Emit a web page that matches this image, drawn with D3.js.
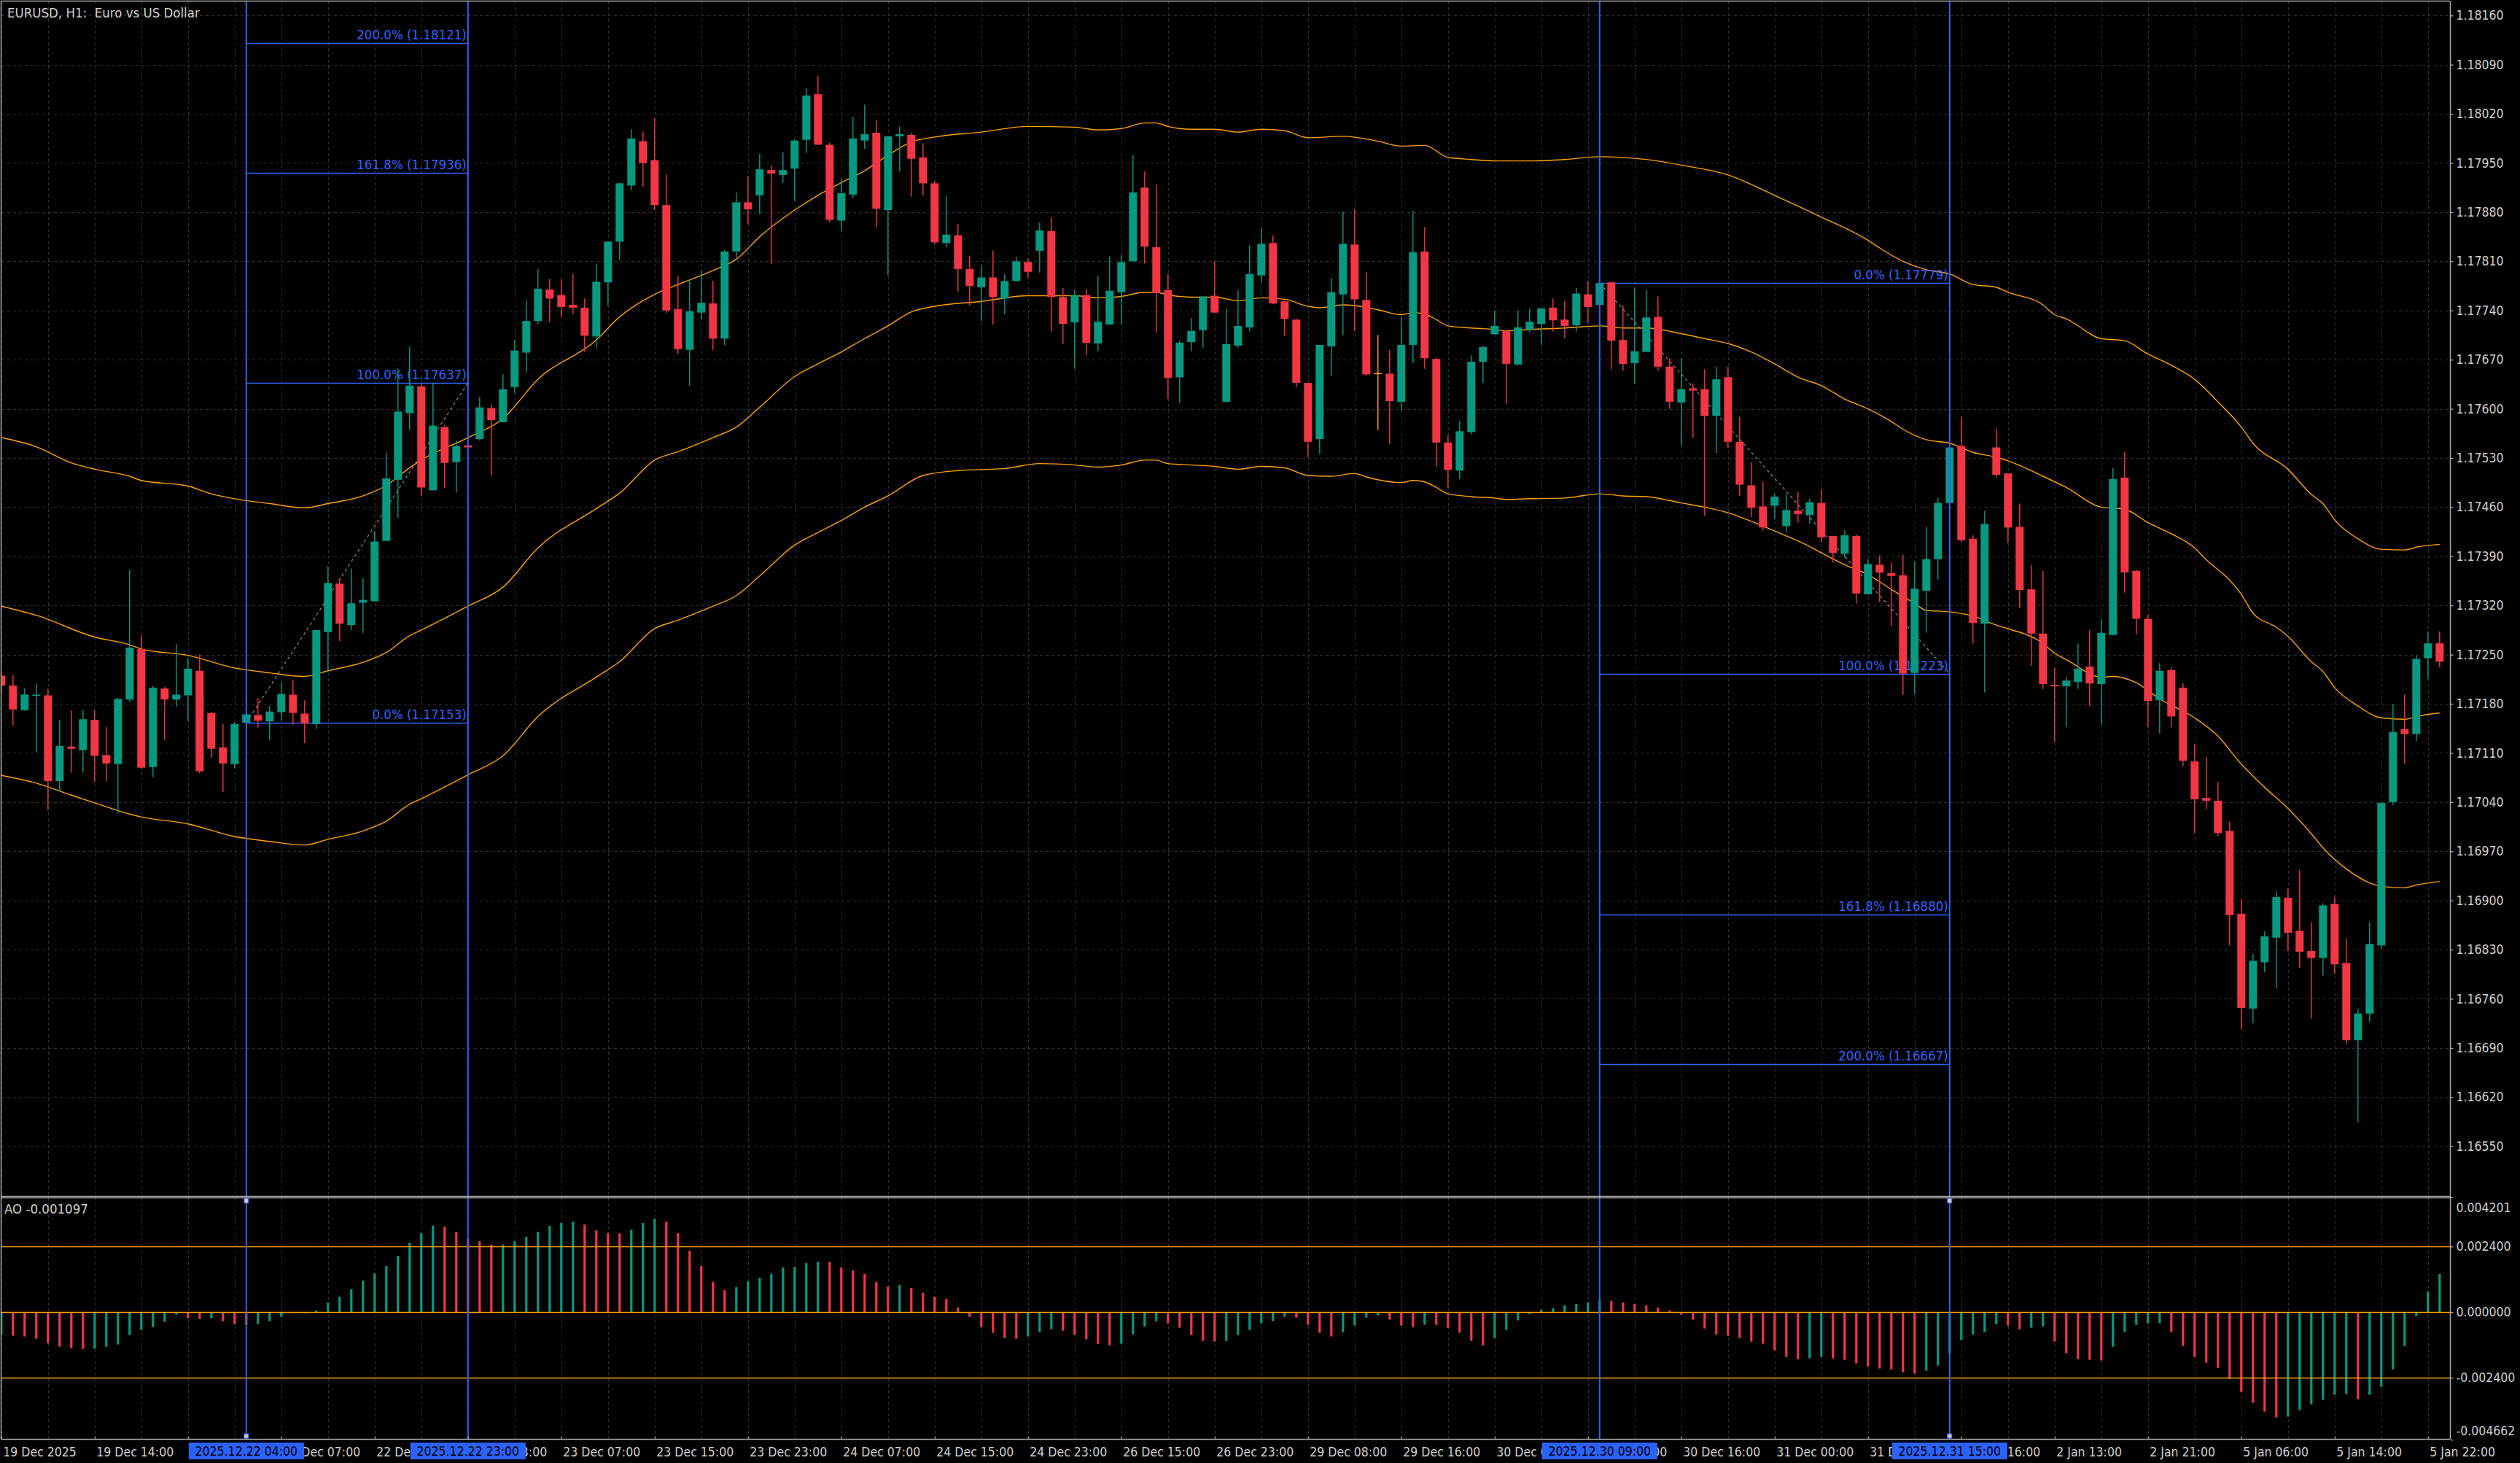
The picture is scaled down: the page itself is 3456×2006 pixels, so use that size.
<!DOCTYPE html>
<html>
<head>
<meta charset="utf-8">
<script src="https://cdn.jsdelivr.net/npm/d3@7"></script>
<style>
  html, body { margin: 0; padding: 0; background: #000; overflow: hidden; }
  svg text { font-family: "DejaVu Sans Condensed", "DejaVu Sans", sans-serif; font-stretch: condensed; }
</style>
</head>
<body>
<svg id="chart"></svg>
<script>
// EURUSD H1 candles, 19 Dec 2025 06:00 .. 5 Jan 2026 23:00 (one value per bar)
var opens = [
  1.17220, 1.17206, 1.17171, 1.17192, 1.17192, 1.17070, 1.17119, 1.17114, 1.17157, 1.17107,
  1.17094, 1.17186, 1.17258, 1.17090, 1.17202, 1.17186, 1.17192, 1.17227, 1.17167, 1.17118,
  1.17094, 1.17153, 1.17164, 1.17155, 1.17168, 1.17193, 1.17166, 1.17151, 1.17282, 1.17351,
  1.17292, 1.17324, 1.17326, 1.17412, 1.17499, 1.17594, 1.17632, 1.17484, 1.17574, 1.17524,
  1.17548, 1.17557, 1.17601, 1.17581, 1.17631, 1.17680, 1.17725, 1.17770, 1.17762, 1.17748,
  1.17744, 1.17703, 1.17780, 1.17838, 1.17918, 1.17981, 1.17954, 1.17890, 1.17742, 1.17684,
  1.17737, 1.17750, 1.17700, 1.17824, 1.17894, 1.17904, 1.17940, 1.17933, 1.17942, 1.17983,
  1.18048, 1.17976, 1.17868, 1.17905, 1.17982, 1.17993, 1.17883, 1.17988, 1.17990, 1.17958,
  1.17921, 1.17836, 1.17847, 1.17799, 1.17773, 1.17787, 1.17757, 1.17782, 1.17809, 1.17825,
  1.17853, 1.17759, 1.17723, 1.17762, 1.17693, 1.17720, 1.17766, 1.17810, 1.17915, 1.17830,
  1.17769, 1.17645, 1.17695, 1.17712, 1.17761, 1.17610, 1.17690, 1.17716, 1.17790, 1.17836,
  1.17753, 1.17727, 1.17637, 1.17557, 1.17689, 1.17763, 1.17834, 1.17755, 1.17651, 1.17650,
  1.17610, 1.17691, 1.17824, 1.17671, 1.17552, 1.17512, 1.17567, 1.17667, 1.17706, 1.17711,
  1.17663, 1.17713, 1.17721, 1.17744, 1.17727, 1.17719, 1.17763, 1.17748, 1.17780, 1.17698,
  1.17665, 1.17681, 1.17731, 1.17660, 1.17609, 1.17629, 1.17628, 1.17590, 1.17645, 1.17553,
  1.17491, 1.17461, 1.17462, 1.17433, 1.17455, 1.17449, 1.17466, 1.17419, 1.17394, 1.17419,
  1.17336, 1.17378, 1.17366, 1.17363, 1.17224, 1.17341, 1.17386, 1.17466, 1.17547, 1.17415,
  1.17294, 1.17545, 1.17508, 1.17432, 1.17343, 1.17280, 1.17207, 1.17205, 1.17211, 1.17233,
  1.17208, 1.17278, 1.17502, 1.17369, 1.17301, 1.17185, 1.17228, 1.17203, 1.17098, 1.17046,
  1.17042, 1.16999, 1.16881, 1.16746, 1.16812, 1.16847, 1.16904, 1.16857, 1.16828, 1.16818,
  1.16895, 1.16811, 1.16701, 1.16739, 1.16836, 1.17040, 1.17144, 1.17137, 1.17245, 1.17266
];
var highs = [
  1.17225, 1.17221, 1.17202, 1.17209, 1.17201, 1.17157, 1.17171, 1.17171, 1.17171, 1.17147,
  1.17188, 1.17371, 1.17278, 1.17205, 1.17204, 1.17265, 1.17245, 1.17250, 1.17168, 1.17151,
  1.17154, 1.17168, 1.17188, 1.17177, 1.17211, 1.17214, 1.17185, 1.17285, 1.17376, 1.17359,
  1.17373, 1.17359, 1.17426, 1.17538, 1.17658, 1.17688, 1.17636, 1.17637, 1.17577, 1.17555,
  1.17550, 1.17617, 1.17606, 1.17649, 1.17698, 1.17755, 1.17799, 1.17785, 1.17785, 1.17792,
  1.17757, 1.17807, 1.17838, 1.17922, 1.17998, 1.17995, 1.18014, 1.17934, 1.17789, 1.17784,
  1.17797, 1.17782, 1.17826, 1.17908, 1.17931, 1.17963, 1.17946, 1.17965, 1.17984, 1.18056,
  1.18074, 1.17979, 1.17928, 1.18016, 1.18033, 1.18011, 1.17989, 1.18002, 1.17993, 1.17978,
  1.17925, 1.17904, 1.17863, 1.17818, 1.17803, 1.17825, 1.17792, 1.17816, 1.17814, 1.17865,
  1.17872, 1.17772, 1.17769, 1.17771, 1.17789, 1.17817, 1.17819, 1.17961, 1.17938, 1.17919,
  1.17792, 1.17697, 1.17729, 1.17760, 1.17810, 1.17743, 1.17769, 1.17833, 1.17857, 1.17847,
  1.17754, 1.17728, 1.17637, 1.17691, 1.17786, 1.17881, 1.17884, 1.17795, 1.17705, 1.17684,
  1.17731, 1.17882, 1.17859, 1.17673, 1.17563, 1.17583, 1.17676, 1.17690, 1.17740, 1.17711,
  1.17740, 1.17743, 1.17744, 1.17757, 1.17754, 1.17772, 1.17782, 1.17779, 1.17781, 1.17747,
  1.17773, 1.17769, 1.17760, 1.17672, 1.17672, 1.17636, 1.17656, 1.17660, 1.17660, 1.17588,
  1.17524, 1.17496, 1.17479, 1.17479, 1.17482, 1.17472, 1.17485, 1.17419, 1.17427, 1.17421,
  1.17386, 1.17391, 1.17381, 1.17392, 1.17383, 1.17432, 1.17473, 1.17545, 1.17588, 1.17420,
  1.17455, 1.17572, 1.17508, 1.17465, 1.17378, 1.17369, 1.17231, 1.17219, 1.17266, 1.17285,
  1.17301, 1.17516, 1.17539, 1.17371, 1.17307, 1.17238, 1.17232, 1.17209, 1.17123, 1.17104,
  1.17069, 1.17012, 1.16903, 1.16824, 1.16856, 1.16913, 1.16917, 1.16943, 1.16869, 1.16896,
  1.16905, 1.16846, 1.16746, 1.16869, 1.17039, 1.17180, 1.17193, 1.17249, 1.17283, 1.17283
];
var lows = [
  1.17195, 1.17149, 1.17170, 1.17111, 1.17029, 1.17056, 1.17082, 1.17082, 1.17069, 1.17070,
  1.17024, 1.17183, 1.17087, 1.17076, 1.17128, 1.17176, 1.17156, 1.17081, 1.17103, 1.17054,
  1.17088, 1.17153, 1.17146, 1.17128, 1.17156, 1.17150, 1.17124, 1.17144, 1.17226, 1.17269,
  1.17285, 1.17281, 1.17326, 1.17412, 1.17445, 1.17570, 1.17476, 1.17484, 1.17487, 1.17481,
  1.17542, 1.17555, 1.17505, 1.17581, 1.17622, 1.17652, 1.17720, 1.17724, 1.17730, 1.17735,
  1.17681, 1.17686, 1.17747, 1.17812, 1.17911, 1.17916, 1.17883, 1.17736, 1.17678, 1.17633,
  1.17727, 1.17684, 1.17691, 1.17815, 1.17863, 1.17877, 1.17806, 1.17922, 1.17896, 1.17964,
  1.17976, 1.17865, 1.17854, 1.17900, 1.17970, 1.17858, 1.17790, 1.17938, 1.17902, 1.17904,
  1.17834, 1.17830, 1.17767, 1.17747, 1.17725, 1.17720, 1.17735, 1.17781, 1.17787, 1.17794,
  1.17710, 1.17692, 1.17657, 1.17676, 1.17682, 1.17720, 1.17720, 1.17810, 1.17807, 1.17708,
  1.17614, 1.17608, 1.17682, 1.17687, 1.17737, 1.17610, 1.17687, 1.17710, 1.17780, 1.17749,
  1.17704, 1.17631, 1.17531, 1.17536, 1.17647, 1.17705, 1.17711, 1.17647, 1.17570, 1.17550,
  1.17597, 1.17665, 1.17657, 1.17518, 1.17487, 1.17500, 1.17564, 1.17637, 1.17706, 1.17607,
  1.17663, 1.17709, 1.17691, 1.17710, 1.17701, 1.17710, 1.17722, 1.17748, 1.17656, 1.17654,
  1.17635, 1.17681, 1.17654, 1.17600, 1.17547, 1.17559, 1.17448, 1.17537, 1.17544, 1.17476,
  1.17446, 1.17427, 1.17443, 1.17425, 1.17438, 1.17437, 1.17410, 1.17381, 1.17388, 1.17323,
  1.17336, 1.17325, 1.17291, 1.17193, 1.17193, 1.17281, 1.17357, 1.17466, 1.17410, 1.17266,
  1.17196, 1.17502, 1.17409, 1.17316, 1.17234, 1.17201, 1.17126, 1.17147, 1.17201, 1.17177,
  1.17150, 1.17278, 1.17338, 1.17279, 1.17147, 1.17138, 1.17147, 1.17091, 1.16996, 1.17030,
  1.16991, 1.16836, 1.16717, 1.16725, 1.16798, 1.16775, 1.16828, 1.16804, 1.16732, 1.16793,
  1.16795, 1.16695, 1.16584, 1.16727, 1.16832, 1.17036, 1.17094, 1.17127, 1.17215, 1.17232
];
var closes = [
  1.17206, 1.17172, 1.17193, 1.17193, 1.17070, 1.17120, 1.17116, 1.17158, 1.17106, 1.17095,
  1.17187, 1.17260, 1.17089, 1.17203, 1.17186, 1.17193, 1.17230, 1.17084, 1.17116, 1.17095,
  1.17151, 1.17165, 1.17156, 1.17169, 1.17194, 1.17167, 1.17152, 1.17285, 1.17352, 1.17294,
  1.17323, 1.17328, 1.17411, 1.17501, 1.17596, 1.17633, 1.17488, 1.17576, 1.17523, 1.17547,
  1.17545, 1.17602, 1.17584, 1.17628, 1.17683, 1.17725, 1.17771, 1.17757, 1.17745, 1.17744,
  1.17704, 1.17781, 1.17838, 1.17921, 1.17985, 1.17950, 1.17890, 1.17740, 1.17685, 1.17739,
  1.17751, 1.17700, 1.17824, 1.17894, 1.17884, 1.17941, 1.17935, 1.17940, 1.17982, 1.18046,
  1.17976, 1.17869, 1.17907, 1.17985, 1.17991, 1.17885, 1.17988, 1.17991, 1.17956, 1.17921,
  1.17837, 1.17848, 1.17799, 1.17775, 1.17787, 1.17759, 1.17782, 1.17810, 1.17795, 1.17854,
  1.17759, 1.17721, 1.17762, 1.17694, 1.17724, 1.17768, 1.17809, 1.17908, 1.17831, 1.17765,
  1.17644, 1.17694, 1.17711, 1.17760, 1.17737, 1.17692, 1.17718, 1.17792, 1.17835, 1.17750,
  1.17728, 1.17637, 1.17553, 1.17691, 1.17766, 1.17835, 1.17756, 1.17649, 1.17651, 1.17611,
  1.17691, 1.17823, 1.17672, 1.17552, 1.17513, 1.17568, 1.17667, 1.17688, 1.17718, 1.17664,
  1.17716, 1.17724, 1.17743, 1.17726, 1.17718, 1.17764, 1.17745, 1.17779, 1.17697, 1.17664,
  1.17682, 1.17730, 1.17660, 1.17610, 1.17628, 1.17626, 1.17590, 1.17642, 1.17553, 1.17492,
  1.17459, 1.17431, 1.17475, 1.17456, 1.17450, 1.17467, 1.17417, 1.17395, 1.17420, 1.17337,
  1.17379, 1.17367, 1.17362, 1.17223, 1.17344, 1.17386, 1.17466, 1.17545, 1.17413, 1.17295,
  1.17436, 1.17506, 1.17431, 1.17342, 1.17280, 1.17208, 1.17205, 1.17213, 1.17230, 1.17209,
  1.17281, 1.17500, 1.17367, 1.17301, 1.17184, 1.17227, 1.17162, 1.17099, 1.17044, 1.17042,
  1.16996, 1.16879, 1.16747, 1.16814, 1.16849, 1.16905, 1.16854, 1.16827, 1.16818, 1.16893,
  1.16809, 1.16701, 1.16739, 1.16838, 1.17039, 1.17140, 1.17137, 1.17244, 1.17266, 1.17240
];

// Awesome Oscillator, one value per bar
var aoValues = [
  -0.000818, -0.000862, -0.000889, -0.000969, -0.001138, -0.001262, -0.001316, -0.001350, -0.001340, -0.001262,
  -0.001182, -0.000836, -0.000649, -0.000542, -0.000356, -0.000089, -0.000222, -0.000249, -0.000222, -0.000329,
  -0.000450, -0.000470, -0.000436, -0.000329, -0.000169, -0.000036, -0.000040, 0.000062, 0.000356, 0.000569,
  0.000836, 0.001156, 0.001422, 0.001689, 0.002062, 0.002542, 0.002889, 0.003156, 0.003129, 0.002942,
  0.002676, 0.002596, 0.002462, 0.002470, 0.002596, 0.002756, 0.002942, 0.003156, 0.003262, 0.003316,
  0.003209, 0.002996, 0.002889, 0.002880, 0.003022, 0.003262, 0.003422, 0.003316, 0.002889, 0.002249,
  0.001689, 0.001102, 0.000809, 0.000916, 0.001129, 0.001262, 0.001396, 0.001636, 0.001662, 0.001796,
  0.001849, 0.001840, 0.001636, 0.001529, 0.001396, 0.001102, 0.000942, 0.000996, 0.000889, 0.000702,
  0.000569, 0.000489, 0.000169, -0.000169, -0.000542, -0.000756, -0.000942, -0.000969, -0.000889, -0.000729,
  -0.000622, -0.000676, -0.000836, -0.000996, -0.001156, -0.001209, -0.001156, -0.000809, -0.000516, -0.000329,
  -0.000409, -0.000569, -0.000836, -0.001049, -0.001076, -0.001049, -0.000836, -0.000649, -0.000409, -0.000329,
  -0.000169, -0.000196, -0.000462, -0.000756, -0.000889, -0.000729, -0.000489, -0.000196, -0.000116, -0.000276,
  -0.000489, -0.000542, -0.000455, -0.000470, -0.000569, -0.000756, -0.001049, -0.001209, -0.000942, -0.000649,
  -0.000302, -0.000062, 0.000089, 0.000142, 0.000249, 0.000302, 0.000356, 0.000436, 0.000409, 0.000356,
  0.000302, 0.000249, 0.000169, 0.000062, -0.000089, -0.000276, -0.000596, -0.000809, -0.000862, -0.000942,
  -0.001076, -0.001156, -0.001396, -0.001636, -0.001716, -0.001689, -0.001636, -0.001689, -0.001742, -0.001876,
  -0.001982, -0.002062, -0.002089, -0.002196, -0.002249, -0.002142, -0.001956, -0.001502, -0.001022, -0.000809,
  -0.000729, -0.000436, -0.000489, -0.000622, -0.000569, -0.000516, -0.001076, -0.001502, -0.001716, -0.001742,
  -0.001769, -0.001262, -0.000729, -0.000462, -0.000409, -0.000400, -0.000729, -0.001236, -0.001636, -0.001849,
  -0.002036, -0.002436, -0.002916, -0.003316, -0.003636, -0.003849, -0.003822, -0.003582, -0.003369, -0.003209,
  -0.003022, -0.002996, -0.003182, -0.003022, -0.002729, -0.002089, -0.001236, -0.000142, 0.000756, 0.001396
];

// envelope lines, read at sample bars: [bar, price]
var upperBand = [[0,1.17559],[3,1.17546],[6,1.17523],[8,1.17514],[11,1.17504],[12,1.17498],[16,1.17490],[18,1.17479],
  [20,1.17472],[23,1.17465],[26,1.17459],[28,1.17465],[31,1.17476],[33,1.17491],[35,1.17516],[36,1.17527],[40,1.17559],
  [43,1.17586],[46,1.17642],[51,1.17698],[53,1.17731],[56,1.17763],[58,1.17777],[61,1.17797],[63,1.17813],[65,1.17845],
  [68,1.17883],[70,1.17904],[72,1.17922],[74,1.17939],[76,1.17961],[78,1.17980],[80,1.17987],[84,1.17994],[88,1.18002],
  [92,1.18001],[94,1.17997],[96,1.17999],[98,1.18007],[99,1.18007],[100,1.18002],[102,1.17998],[104,1.17998],[106,1.17994],
  [108,1.17998],[110,1.17996],[112,1.17986],[115,1.17988],[118,1.17981],[120,1.17974],[122,1.17975],[124,1.17958],
  [126,1.17955],[128,1.17953],[131,1.17953],[134,1.17955],[137,1.17959],[141,1.17955],[144,1.17947],[148,1.17933],
  [152,1.17904],[156,1.17873],[160,1.17840],[161,1.17829],[163,1.17810],[165,1.17798],[167,1.17792],[169,1.17777],
  [171,1.17773],[172,1.17766],[175,1.17748],[176,1.17734],[177,1.17728],[180,1.17700],[182,1.17697],[184,1.17678],
  [186,1.17662],[188,1.17642],[190,1.17610],[192,1.17574],[193,1.17551],[196,1.17514],[198,1.17478],[199,1.17465],
  [200,1.17442],[202,1.17415],[204,1.17400],[206,1.17399],[207,1.17403],[209,1.17407]];
var middleBand = [[0,1.17319],[3,1.17306],[8,1.17275],[11,1.17264],[12,1.17258],[16,1.17249],[20,1.17231],[23,1.17224],
  [26,1.17219],[28,1.17227],[31,1.17239],[33,1.17253],[35,1.17277],[36,1.17285],[40,1.17319],[43,1.17346],[46,1.17402],
  [51,1.17458],[53,1.17480],[56,1.17527],[58,1.17539],[61,1.17559],[63,1.17574],[65,1.17602],[68,1.17646],[70,1.17664],
  [72,1.17681],[74,1.17700],[76,1.17718],[78,1.17738],[80,1.17746],[84,1.17753],[88,1.17761],[92,1.17761],[94,1.17758],
  [96,1.17760],[98,1.17766],[99,1.17766],[100,1.17762],[102,1.17759],[104,1.17759],[106,1.17754],[108,1.17758],
  [110,1.17756],[112,1.17746],[113,1.17744],[115,1.17748],[116,1.17747],[118,1.17741],[120,1.17734],[121,1.17737],
  [122,1.17735],[123,1.17727],[124,1.17718],[126,1.17715],[128,1.17713],[129,1.17711],[131,1.17713],[134,1.17715],
  [137,1.17718],[139,1.17715],[141,1.17715],[144,1.17707],[146,1.17700],[148,1.17693],[150,1.17681],[152,1.17664],
  [154,1.17645],[156,1.17633],[158,1.17614],[160,1.17600],[162,1.17582],[163,1.17571],[165,1.17556],[167,1.17551],
  [169,1.17538],[171,1.17531],[172,1.17526],[175,1.17504],[177,1.17488],[180,1.17460],[182,1.17457],[184,1.17438],
  [186,1.17422],[188,1.17402],[189,1.17385],[191,1.17356],[192,1.17336],[193,1.17309],[195,1.17289],[196,1.17276],
  [198,1.17240],[199,1.17226],[200,1.17203],[202,1.17177],[204,1.17160],[206,1.17158],[207,1.17162],[209,1.17167]];
var lowerBand = [[0,1.17078],[3,1.17067],[6,1.17050],[8,1.17039],[11,1.17023],[12,1.17019],[16,1.17009],[20,1.16991],
  [23,1.16984],[26,1.16979],[28,1.16987],[31,1.16999],[33,1.17013],[35,1.17037],[36,1.17045],[40,1.17079],[43,1.17106],
  [46,1.17162],[51,1.17218],[53,1.17240],[56,1.17287],[58,1.17299],[61,1.17319],[63,1.17334],[65,1.17362],[68,1.17406],
  [70,1.17424],[72,1.17441],[74,1.17460],[76,1.17476],[79,1.17505],[82,1.17512],[86,1.17515],[89,1.17522],[92,1.17520],
  [94,1.17517],[96,1.17520],[98,1.17527],[99,1.17527],[100,1.17522],[102,1.17520],[104,1.17518],[106,1.17514],
  [108,1.17518],[110,1.17516],[112,1.17505],[114,1.17504],[116,1.17508],[117,1.17503],[120,1.17495],[121,1.17498],
  [122,1.17496],[123,1.17488],[124,1.17479],[126,1.17475],[128,1.17473],[129,1.17471],[131,1.17472],[134,1.17473],
  [137,1.17479],[139,1.17476],[141,1.17475],[144,1.17466],[146,1.17460],[148,1.17452],[151,1.17433],[153,1.17419],
  [155,1.17404],[156,1.17395],[158,1.17378],[160,1.17364],[162,1.17343],[164,1.17323],[165,1.17313],[167,1.17311],
  [169,1.17305],[171,1.17292],[172,1.17287],[175,1.17266],[176,1.17252],[177,1.17243],[180,1.17218],[181,1.17219],
  [183,1.17210],[185,1.17187],[188,1.17160],[190,1.17134],[192,1.17094],[194,1.17061],[196,1.17031],[198,1.16995],
  [199,1.16975],[201,1.16945],[203,1.16925],[204,1.16920],[206,1.16918],[207,1.16922],[209,1.16927]];

// fibonacci objects: anchor bars and level prices as labelled on the chart
var fibLeftBars = [21, 40];
var fibLeftPrices = [1.17153, 1.17637, 1.17936, 1.18121];
var fibRightBars = [137, 167];
var fibRightPrices = [1.17779, 1.17223, 1.16880, 1.16667];
var fibLevelNames = ["0.0%", "100.0%", "161.8%", "200.0%"];

// vertical lines
var vlineBars = [21, 40, 137, 167];
var vlineLabels = ["2025.12.22 04:00", "2025.12.22 23:00", "2025.12.30 09:00", "2025.12.31 15:00"];
var selectedVlines = [21, 167];

// axis ticks
var priceTicks = [1.16550, 1.16620, 1.16690, 1.16760, 1.16830, 1.16900, 1.16970, 1.17040, 1.17110, 1.17180,
  1.17250, 1.17320, 1.17390, 1.17460, 1.17530, 1.17600, 1.17670, 1.17740, 1.17810, 1.17880, 1.17950, 1.18020,
  1.18090, 1.18160];
var aoTicks = [0.004201, 0.002400, 0.000000, -0.002400, -0.004662];
var aoLevels = [0.0024, 0, -0.0024];
var timeTickBars = [0, 8, 16, 24, 32, 40, 48, 56, 64, 72, 80, 88, 96, 104, 112, 120, 128, 136, 144, 152,
  160, 168, 176, 184, 192, 200, 208];
var timeTickLabels = ["19 Dec 2025", "19 Dec 14:00", "19 Dec 22:00", "22 Dec 07:00", "22 Dec 15:00",
  "22 Dec 23:00", "23 Dec 07:00", "23 Dec 15:00", "23 Dec 23:00", "24 Dec 07:00", "24 Dec 15:00",
  "24 Dec 23:00", "26 Dec 15:00", "26 Dec 23:00", "29 Dec 08:00", "29 Dec 16:00", "30 Dec 00:00",
  "30 Dec 08:00", "30 Dec 16:00", "31 Dec 00:00", "31 Dec 08:00", "31 Dec 16:00", "2 Jan 13:00",
  "2 Jan 21:00", "5 Jan 06:00", "5 Jan 14:00", "5 Jan 22:00"];

var svgWidth = 3456;
var svgHeight = 2006;
var plotLeft = 2, plotRight = 3360;
var mainTop = 2, mainBottom = 1640;
var aoTop = 1642.5, aoBottom = 1973;

var upColor = "#089981", downColor = "#f23645", dojiColor = "#ffa10a";
var bandColor = "#ffa10a", fibColor = "#2f64ff", gridColor = "#303030";
var textColor = "#cfcfcf", frameColor = "#a8a8a8";
var axisFont = 17.5, labelFont = 18.5;

var svg = d3.select("#chart")
  .attr("width", svgWidth)
  .attr("height", svgHeight)
  .style("display", "block")
  .style("background", "#000");

var x = d3.scaleLinear().domain([0, 209]).range([1.8, 1.8 + 16 * 209]);
var y = d3.scaleLinear().domain([1.164791, 1.181800]).range([mainBottom, mainTop]);
var yAO = d3.scaleLinear().domain([-0.004662, 0.004201]).range([1974, 1641.7]);

var defs = svg.append("defs");
defs.append("clipPath").attr("id", "clipMain").append("rect")
  .attr("x", plotLeft).attr("y", mainTop).attr("width", plotRight - plotLeft).attr("height", mainBottom - mainTop);
defs.append("clipPath").attr("id", "clipAO").append("rect")
  .attr("x", plotLeft).attr("y", aoTop).attr("width", plotRight - plotLeft).attr("height", aoBottom - aoTop);

var mainGroup = svg.append("g").attr("clip-path", "url(#clipMain)");
var aoGroup = svg.append("g").attr("clip-path", "url(#clipAO)");

// grid
var gridBars = d3.range(0, opens.length, 4);
mainGroup.append("g").selectAll("line").data(priceTicks).enter().append("line")
  .attr("x1", plotLeft).attr("x2", plotRight)
  .attr("y1", d => Math.round(y(d)) + 0.5).attr("y2", d => Math.round(y(d)) + 0.5)
  .attr("stroke", gridColor).attr("stroke-dasharray", "4,4");
[mainGroup, aoGroup].forEach(function(grp) {
  grp.append("g").selectAll("line").data(gridBars).enter().append("line")
    .attr("x1", d => Math.round(x(d)) + 0.5).attr("x2", d => Math.round(x(d)) + 0.5)
    .attr("y1", mainTop).attr("y2", aoBottom)
    .attr("stroke", gridColor).attr("stroke-dasharray", "4,4");
});

// envelope lines
var bandLine = d3.line()
  .x(d => x(d[0]))
  .y(d => y(d[1]))
  .curve(d3.curveMonotoneX);
[upperBand, middleBand, lowerBand].forEach(function(band) {
  mainGroup.append("path")
    .datum(band)
    .attr("d", bandLine)
    .attr("fill", "none")
    .attr("stroke", bandColor)
    .attr("stroke-width", 1.4);
});

// fibonacci retracements (drawn behind candles)
function drawFib(bars, prices) {
  var fg = mainGroup.append("g");
  fg.append("line")
    .attr("x1", x(bars[0])).attr("y1", y(prices[0]))
    .attr("x2", x(bars[1])).attr("y2", y(prices[1]))
    .attr("stroke", "#8c8c8c").attr("stroke-width", 1.2).attr("stroke-dasharray", "4,4");
  fg.selectAll(".lvl").data(prices).enter().append("line")
    .attr("x1", x(bars[0])).attr("x2", x(bars[1]))
    .attr("y1", d => Math.round(y(d)) + 0.5).attr("y2", d => Math.round(y(d)) + 0.5)
    .attr("stroke", fibColor).attr("stroke-width", 1.3);
  fg.selectAll(".lbl").data(prices).enter().append("text")
    .attr("x", x(bars[1]) - 2)
    .attr("y", d => y(d) - 5)
    .attr("text-anchor", "end")
    .attr("fill", fibColor)
    .attr("font-size", labelFont)
    .text((d, i) => fibLevelNames[i] + " (" + d.toFixed(5) + ")");
}
drawFib(fibLeftBars, fibLeftPrices);
drawFib(fibRightBars, fibRightPrices);

// candles
var candles = opens.map(function(o, i) {
  return { i: i, o: o, h: highs[i], l: lows[i], c: closes[i] };
});
function candleColor(d) {
  if (d.c > d.o) return upColor;
  if (d.c < d.o) return downColor;
  return dojiColor;
}
mainGroup.append("g").selectAll("line").data(candles).enter().append("line")
  .attr("x1", d => x(d.i)).attr("x2", d => x(d.i))
  .attr("y1", d => y(d.h)).attr("y2", d => y(d.l))
  .attr("stroke", candleColor).attr("stroke-width", 1.4);
mainGroup.append("g").selectAll("rect").data(candles).enter().append("rect")
  .attr("x", d => x(d.i) - 5.5)
  .attr("width", 11)
  .attr("y", d => y(Math.max(d.o, d.c)))
  .attr("height", d => Math.max(1.6, Math.abs(y(d.o) - y(d.c))))
  .attr("fill", candleColor);

// AO histogram
aoGroup.append("g").selectAll("rect").data(aoValues).enter().append("rect")
  .attr("x", (d, i) => x(i) - 1.6)
  .attr("width", 3.2)
  .attr("y", d => Math.min(yAO(d), yAO(0)))
  .attr("height", d => Math.max(1, Math.abs(yAO(d) - yAO(0))))
  .attr("fill", (d, i) => (i === 0 || d > aoValues[i - 1]) ? upColor : downColor);
aoGroup.append("g").selectAll("line").data(aoLevels).enter().append("line")
  .attr("x1", plotLeft).attr("x2", plotRight)
  .attr("y1", d => Math.round(yAO(d)) + 0.5).attr("y2", d => Math.round(yAO(d)) + 0.5)
  .attr("stroke", bandColor).attr("stroke-width", 1.6);

// vertical lines across both panels
svg.append("g").selectAll("line").data(vlineBars).enter().append("line")
  .attr("x1", d => x(d)).attr("x2", d => x(d))
  .attr("y1", mainTop).attr("y2", aoBottom)
  .attr("stroke", fibColor).attr("stroke-width", 2);
var handles = svg.append("g");
selectedVlines.forEach(function(b) {
  [aoTop + 1, aoBottom - 7].forEach(function(hy) {
    handles.append("rect")
      .attr("x", x(b) - 3).attr("y", hy).attr("width", 6).attr("height", 6)
      .attr("fill", "#c8c8c8").attr("stroke", fibColor).attr("stroke-width", 1);
  });
});

// frame lines
var frame = svg.append("g").attr("stroke", frameColor).attr("stroke-width", 1.5);
frame.append("line").attr("x1", 1.5).attr("x2", 1.5).attr("y1", 1.5).attr("y2", aoBottom);
frame.append("line").attr("x1", 1.5).attr("x2", plotRight).attr("y1", 1.5).attr("y2", 1.5);
frame.append("line").attr("x1", plotRight + 0.5).attr("x2", plotRight + 0.5).attr("y1", 1.5).attr("y2", aoBottom);
frame.append("line").attr("x1", 1.5).attr("x2", plotRight).attr("y1", mainBottom + 0.5).attr("y2", mainBottom + 0.5);
frame.append("line").attr("x1", 1.5).attr("x2", plotRight).attr("y1", mainBottom + 2.5).attr("y2", mainBottom + 2.5);
frame.append("line").attr("x1", 1.5).attr("x2", plotRight + 0.5).attr("y1", aoBottom + 0.5).attr("y2", aoBottom + 0.5);

function styleAxis(g) {
  g.select(".domain").remove();
  g.selectAll(".tick line").attr("stroke", frameColor).attr("stroke-width", 1.3);
  g.selectAll(".tick text")
    .attr("fill", textColor)
    .attr("font-size", axisFont)
    .attr("font-family", "DejaVu Sans Condensed, DejaVu Sans, sans-serif");
}

// price axis
var priceAxis = svg.append("g")
  .attr("transform", `translate(${plotRight + 0.5}, 0)`)
  .call(d3.axisRight(y).tickValues(priceTicks).tickFormat(d => d.toFixed(5)).tickSize(4).tickPadding(4));
styleAxis(priceAxis);

// AO axis
var aoAxis = svg.append("g")
  .attr("transform", `translate(${plotRight + 0.5}, 0)`)
  .call(d3.axisRight(yAO).tickValues(aoTicks).tickFormat(d => d.toFixed(6)).tickSize(4).tickPadding(4));
styleAxis(aoAxis);
aoAxis.selectAll(".tick text")
  .attr("dy", (d, i) => i === 0 ? "1.15em" : (i === aoTicks.length - 1 ? "-0.4em" : "0.32em"));

// time axis
var timeAxis = svg.append("g")
  .attr("transform", `translate(0, ${aoBottom + 0.5})`)
  .call(d3.axisBottom(x).tickValues(timeTickBars).tickFormat((d, i) => timeTickLabels[i])
    .tickSizeInner(-4).tickSizeOuter(0).tickPadding(11));
styleAxis(timeAxis);
timeAxis.selectAll(".tick text").attr("text-anchor", "start").attr("dx", 2);

// highlighted dates of the vertical lines
var stamps = svg.append("g").selectAll("g").data(vlineBars).enter().append("g")
  .attr("transform", d => `translate(${x(d)}, 0)`);
stamps.append("rect")
  .attr("x", -79).attr("y", 1978).attr("width", 158).attr("height", 23)
  .attr("fill", "#2a62ff");
stamps.append("text")
  .attr("x", 0).attr("y", 1996)
  .attr("text-anchor", "middle")
  .attr("fill", "#000")
  .attr("font-size", axisFont)
  .text((d, i) => vlineLabels[i]);

// titles
svg.append("text")
  .attr("x", 10).attr("y", 24)
  .attr("fill", textColor)
  .attr("font-size", labelFont)
  .style("white-space", "pre")
  .text("EURUSD, H1:  Euro vs US Dollar");
svg.append("text")
  .attr("x", 6).attr("y", 1664)
  .attr("fill", textColor)
  .attr("font-size", labelFont)
  .text("AO -0.001097");
</script>
</body>
</html>
